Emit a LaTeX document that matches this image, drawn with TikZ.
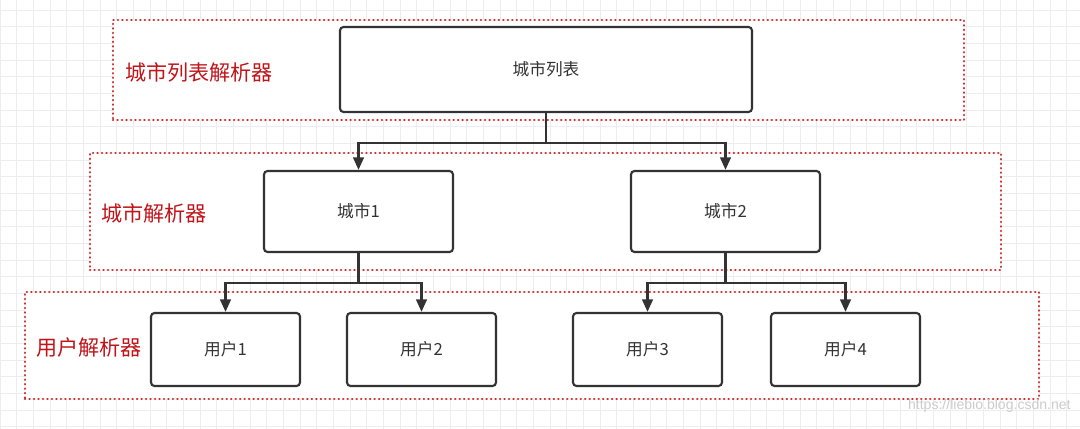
\documentclass[tikz,border=0pt]{standalone}
\usepackage{fontspec}
\setmainfont{Noto Sans CJK SC}
\newfontfamily\markfont{Liberation Sans}
\usetikzlibrary{arrows.meta}
\usepackage{xcolor}
\definecolor{boxgray}{HTML}{333333}
\definecolor{dotred}{RGB}{205,45,45}
\definecolor{tagred}{RGB}{192,20,25}
\definecolor{gridgray}{HTML}{EDEDED}

\tikzset{
  parser/.style={draw=dotred, fill=white, line width=1.5pt, dash pattern=on 0.1pt off 2.45pt, line cap=round, inner sep=0pt},
  item/.style={draw=boxgray, fill=white, line width=1.2pt, rounded corners=2pt, inner sep=0pt, text=boxgray, font=\fontsize{9.5pt}{11pt}\selectfont},
  tag/.style={anchor=west, inner sep=0pt, text=tagred, font=\fontsize{12pt}{14pt}\selectfont},
  link/.style={draw=boxgray, line width=1.4pt, -{Triangle[length=0.25cm, width=0.21cm]}}
}

\begin{document}
\begin{tikzpicture}
\useasboundingbox (0,0) rectangle (21.6,-8.58);
\fill[white] (0,0) rectangle (21.6,-8.58);
\begin{scope}[yshift=-0.2cm]
\draw[gridgray, line width=0.5pt, step=1/3] (0,0.2) grid (21.6,-8.4);
\end{scope}

\node[parser, minimum width=17.02cm, minimum height=2cm] (listparser) at (10.77,-1.4) {};
\node[parser, minimum width=18.22cm, minimum height=2.34cm] (cityparser) at (10.91,-4.23) {};
\node[parser, minimum width=20.28cm, minimum height=2.14cm] (userparser) at (10.64,-6.91) {};

\node[tag] (listtag) at (2.5,-1.44) {城市列表解析器};
\node[tag] (citytag) at (2.02,-4.26) {城市解析器};
\node[tag] (usertag) at (0.72,-6.94) {用户解析器};

\node[item, minimum width=8.24cm, minimum height=1.7cm] (citylist) at (10.92,-1.39) {城市列表};
\node[item, minimum width=3.78cm, minimum height=1.62cm] (city1) at (7.17,-4.23) {城市1};
\node[item, minimum width=3.78cm, minimum height=1.62cm] (city2) at (14.51,-4.23) {城市2};
\node[item, minimum width=2.98cm, minimum height=1.46cm] (user1) at (4.51,-6.99) {用户1};
\node[item, minimum width=2.98cm, minimum height=1.46cm] (user2) at (8.43,-6.99) {用户2};
\node[item, minimum width=2.98cm, minimum height=1.46cm] (user3) at (12.95,-6.99) {用户3};
\node[item, minimum width=2.98cm, minimum height=1.46cm] (user4) at (16.91,-6.99) {用户4};

\draw[link] (citylist.south) -- ++(0,-0.6) -| (city1.north);
\draw[link] (citylist.south) -- ++(0,-0.6) -| (city2.north);
\draw[link] (city1.south) -- ++(0,-0.6) -| (user1.north);
\draw[link] (city1.south) -- ++(0,-0.6) -| (user2.north);
\draw[link] (city2.south) -- ++(0,-0.6) -| (user3.north);
\draw[link] (city2.south) -- ++(0,-0.6) -| (user4.north);

\node[anchor=east, inner sep=0pt, text=gray!40, font=\markfont\fontsize{8pt}{9pt}\selectfont] (mark) at (21.42,-8.12) {https://liebio.blog.csdn.net};
\end{tikzpicture}
\end{document}
